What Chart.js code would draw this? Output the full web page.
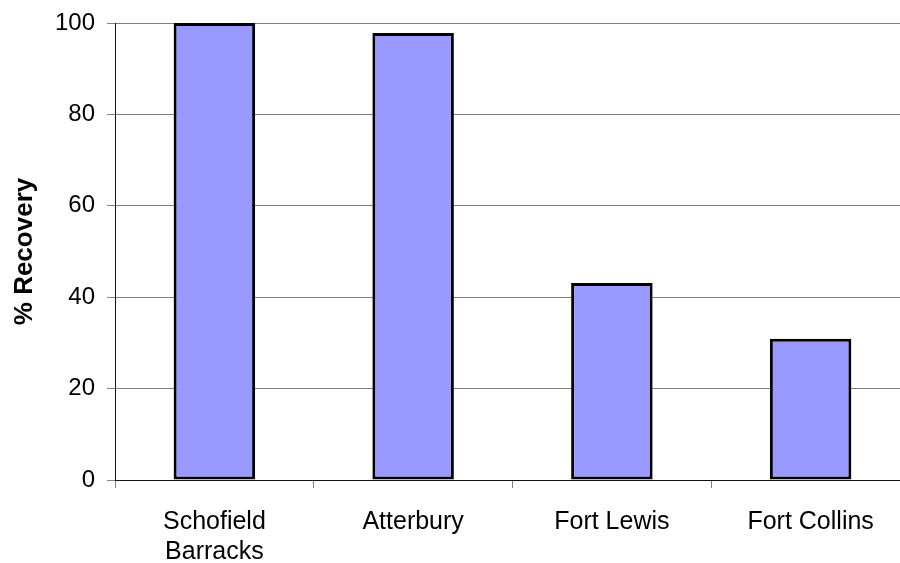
<!DOCTYPE html>
<html>
<head>
<meta charset="utf-8">
<script src="https://cdn.jsdelivr.net/npm/chart.js@4/dist/chart.umd.min.js"></script>
<style>
  html, body { margin: 0; padding: 0; background: #fff; overflow: hidden; }
  #wrap { width: 912px; height: 563px; }
</style>
</head>
<body>
<div id="wrap"><canvas id="c" width="912" height="563"></canvas></div>
<script>
// Recovery rate per site (%)
const sites = [['Schofield', 'Barracks'], 'Atterbury', 'Fort Lewis', 'Fort Collins'];
const recovery = [100, 97.8, 43.1, 30.9];
const yTicks = [0, 20, 40, 60, 80, 100];

const family = '"Liberation Sans", Arial, sans-serif';

new Chart(document.getElementById('c'), {
  type: 'bar',
  data: {
    labels: sites,
    datasets: [{
      data: recovery,
      backgroundColor: '#9999FF',
      borderColor: '#000000',
      borderWidth: 3,
      borderSkipped: false,
      categoryPercentage: 1.0,
      barPercentage: 0.41
    }]
  },
  options: {
    responsive: false,
    devicePixelRatio: 1,
    animation: false,
    layout: { padding: { top: 23, right: 2, left: 0, bottom: 0 } },
    plugins: { legend: { display: false }, tooltip: { enabled: false } },
    scales: {
      x: {
        offset: true,
        grid: { offset: true, drawOnChartArea: false, tickLength: 8, color: '#808080', lineWidth: 1 },
        border: { color: '#111', width: 1 },
        ticks: { color: '#000', font: { family: family, size: 25, lineHeight: 1.2 }, padding: 19, maxRotation: 0, autoSkip: false },
        afterFit: (s) => { s.height = 83; }
      },
      y: {
        min: 0,
        max: 100,
        afterBuildTicks: (s) => { s.ticks = yTicks.map(v => ({ value: v })); },
        grid: { color: '#808080', lineWidth: 1, tickLength: 8 },
        border: { color: '#111', width: 1 },
        ticks: { color: '#000', font: { family: family, size: 24 }, padding: 12 },
        title: {
          display: true,
          text: '% Recovery',
          color: '#000',
          font: { family: family, size: 26, weight: 'bold' },
          padding: { top: 9, bottom: 0 }
        },
        afterFit: (s) => { s.width = 115; s.paddingTop = 0; s.paddingBottom = 0; }
      }
    }
  }
});
</script>
</body>
</html>
